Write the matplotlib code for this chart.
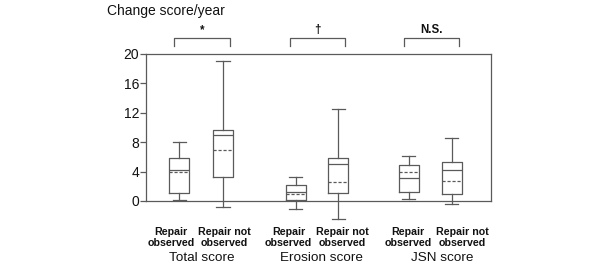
import matplotlib
matplotlib.use("Agg")
import matplotlib.pyplot as plt

plt.rcParams['font.family'] = ['Liberation Sans', 'DejaVu Sans']

# Data
box_labels = ["Repair\nobserved", "Repair not\nobserved"] * 3
group_labels = ["Total score", "Erosion score", "JSN score"]
significance = ["*", "†", "N.S."]
whislo = [0.18, -0.86, -1.13, -2.49, 0.23, -0.41]
q1 = [1.09, 3.26, 0.14, 1.04, 1.18, 1.00]
med = [4.16, 9.00, 1.18, 4.98, 3.08, 4.16]
q3 = [5.84, 9.59, 2.13, 5.84, 4.93, 5.25]
whishi = [8.05, 19.05, 3.26, 12.49, 6.06, 8.50]
mean = [3.94, 6.88, 1.00, 2.58, 3.94, 2.67]
yticks = [0, 4, 8, 12, 16, 20]

# Layout
positions = [1, 2.01, 3.68, 4.66, 6.28, 7.27]
col = "#5a5a5a"

fig = plt.figure(figsize=(6, 2.75), dpi=100)
ax = fig.add_axes([146/600, 1-201/275, (491-146)/600, (201-53.7)/275])

stats = []
for i in range(6):
    stats.append(dict(whislo=whislo[i], q1=q1[i], med=med[i], q3=q3[i],
                      whishi=whishi[i], mean=mean[i], fliers=[]))

lp = dict(color=col, linewidth=0.9)
art = ax.bxp(stats, positions=positions, widths=0.46, capwidths=0.3,
             showmeans=True, meanline=True, showfliers=False,
             boxprops=lp, whiskerprops=lp, capprops=lp,
             medianprops=dict(color=col, linewidth=0.9),
             meanprops=dict(color=col, linewidth=0.9, linestyle=(0, (2.5, 1.5))))
for k in art:
    for a in art[k]:
        a.set_clip_on(False)

ax.set_xlim(0.24, 8.17)
ax.set_ylim(0, 20)
ax.set_yticks(yticks)
ax.set_xticks([])
for s in ax.spines.values():
    s.set_color(col)
    s.set_linewidth(0.9)
ax.tick_params(axis='y', direction='out', length=4, width=0.9, color=col,
               labelsize=10, pad=1, labelcolor='#111111')

# category labels
label_x = [0.82, 2.05, 3.52, 4.76, 6.26, 7.51]
for x, t in zip(label_x, box_labels):
    ax.text(x, -0.249, t, transform=ax.get_xaxis_transform(), ha='center', va='center',
            fontsize=7.7, fontweight='bold', linespacing=1.08, color='#111111')
group_x = [1.53, 4.28, 7.04]
for x, t in zip(group_x, group_labels):
    ax.text(x, -0.385, t, transform=ax.get_xaxis_transform(), ha='center', va='center',
            fontsize=9.7, color='#111111')

# significance brackets
for g in range(3):
    x0 = positions[2*g] - 0.12
    x1 = positions[2*g+1] + 0.16
    yb = 1 + (53.7-46)/147.3
    yt = 1 + (53.7-37.7)/147.3
    ax.plot([x0, x0, x1, x1], [yb, yt, yt, yb], transform=ax.get_xaxis_transform(),
            color=col, linewidth=0.9, clip_on=False)
    ax.text((x0+x1)/2, yt + 0.01, significance[g], transform=ax.get_xaxis_transform(),
            ha='center', va='bottom', fontsize=8.3, fontweight='bold', color='#111111')

fig.text(107/600, 1-11/275, "Change score/year", ha='left', va='center',
         fontsize=10, color='#111111')

fig.savefig("out.png", dpi=100)
